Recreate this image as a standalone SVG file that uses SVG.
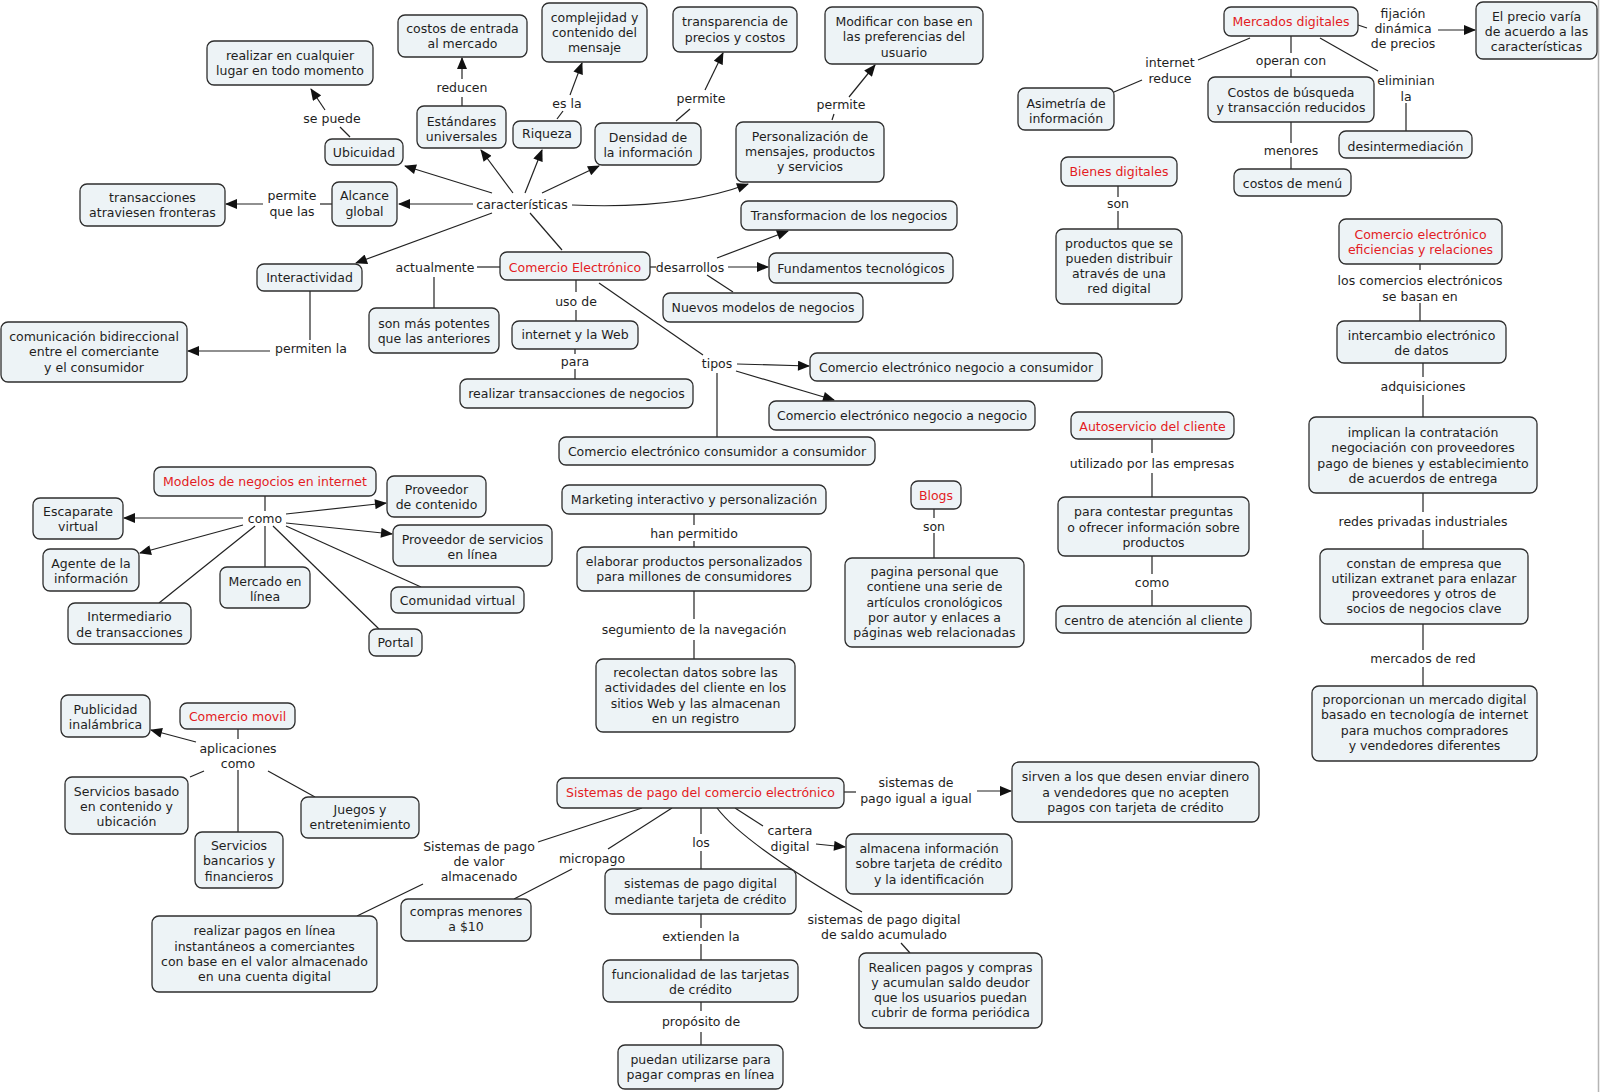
<svg xmlns="http://www.w3.org/2000/svg" width="1600" height="1092" viewBox="0 0 1600 1092">
<style>
text{font-family:"DejaVu Sans",Verdana,"Liberation Sans",sans-serif;font-size:12.5px;fill:#1e1e1e;text-anchor:middle}
.n rect{fill:#edf3f6;stroke:#2e2e2e;stroke-width:1.3}
.r text,text.r{fill:#e31b23}
.c path{fill:none;stroke:#222;stroke-width:1.2}
.c path.a{marker-end:url(#ah)}
</style>
<defs>
<marker id="ah" viewBox="0 0 12 10" refX="11" refY="5" markerWidth="13" markerHeight="10" orient="auto" markerUnits="userSpaceOnUse"><path d="M0,0 L12,5 L0,10 z" fill="#111"/></marker>
</defs>
<rect width="1600" height="1092" fill="#fff"/>
<line x1="1598.5" y1="0" x2="1598.5" y2="1092" stroke="#b5b5b5" stroke-width="1.5"/>

<g id="connectors" class="c">
<path d="M350,137 L340,127"/>
<path class="a" d="M325,110 L311,89"/>
<path d="M332,204 L320,204"/>
<path class="a" d="M263,204 L226,204"/>
<path class="a" d="M492,193 L405,166"/>
<path class="a" d="M473,204 L399,204"/>
<path class="a" d="M513,193 L481,150"/>
<path class="a" d="M525,193 L542,150"/>
<path class="a" d="M542,193 L599,166"/>
<path class="a" d="M572,205 C640,208 700,202 748,184"/>
<path class="a" d="M492,213 L356,263"/>
<path d="M562,250 L530,213"/>
<path d="M462,106 L462,97"/>
<path class="a" d="M462,79 L462,58"/>
<path d="M557,119 L563,111"/>
<path class="a" d="M570,95 L582,63"/>
<path d="M676,121 L690,109"/>
<path class="a" d="M705,90 L723,53"/>
<path d="M832,120 L834,114"/>
<path class="a" d="M849,97 L875,65"/>
<path d="M310,291 L310,340"/>
<path class="a" d="M270,351 L188,351"/>
<path d="M477,267 L500,267"/>
<path d="M434,277 L434,308"/>
<path d="M650,267 L656,267"/>
<path class="a" d="M728,267 L768,267"/>
<path class="a" d="M717,258 L788,231"/>
<path d="M707,275 L733,292"/>
<path d="M576,280 L576,292"/>
<path d="M576,310 L576,321"/>
<path d="M575,349 L575,354"/>
<path d="M575,369 L575,379"/>
<path d="M599,283 L703,355"/>
<path class="a" d="M737,364 L809,366"/>
<path class="a" d="M736,371 L834,400"/>
<path d="M717,373 L717,437"/>
<path d="M694,514 L694,525"/>
<path d="M694,541 L694,547"/>
<path d="M694,591 L694,619"/>
<path d="M694,640 L694,659"/>
<path d="M934,509 L934,518"/>
<path d="M934,533 L934,558"/>
<path d="M1114,92 L1142,80"/>
<path d="M1198,60 L1250,38"/>
<path d="M1118,186 L1118,197"/>
<path d="M1118,211 L1118,229"/>
<path d="M1358,25 L1367,28"/>
<path class="a" d="M1438,30 L1475,30"/>
<path d="M1291,36 L1291,53"/>
<path d="M1291,69 L1291,77"/>
<path d="M1291,122 L1291,143"/>
<path d="M1291,157 L1291,169"/>
<path d="M1320,38 L1378,71"/>
<path d="M1406,103 L1406,131"/>
<path d="M1420,264 L1420,270"/>
<path d="M1420,303 L1420,321"/>
<path d="M1423,363 L1423,377"/>
<path d="M1423,395 L1423,417"/>
<path d="M1423,493 L1423,512"/>
<path d="M1423,530 L1423,549"/>
<path d="M1423,624 L1423,650"/>
<path d="M1423,667 L1423,686"/>
<path d="M1152,439 L1152,453"/>
<path d="M1152,473 L1152,497"/>
<path d="M1152,556 L1152,574"/>
<path d="M1152,590 L1152,606"/>
<path d="M265,496 L265,511"/>
<path d="M265,526 L265,567"/>
<path class="a" d="M243,518 L124,518"/>
<path class="a" d="M286,514 L386,503"/>
<path class="a" d="M286,523 L392,534"/>
<path class="a" d="M243,525 L140,553"/>
<path d="M255,526 L159,603"/>
<path d="M273,526 L379,629"/>
<path d="M286,526 L421,587"/>
<path d="M238,729 L238,739"/>
<path class="a" d="M196,742 L151,730"/>
<path d="M204,771 L190,777"/>
<path d="M238,770 L238,832"/>
<path d="M268,771 L315,797"/>
<path d="M538,842 L642,808"/>
<path d="M423,884 L357,916"/>
<path d="M608,849 L672,808"/>
<path d="M572,869 L514,899"/>
<path d="M701,808 L701,834"/>
<path d="M701,851 L701,869"/>
<path d="M701,914 L701,928"/>
<path d="M701,944 L701,960"/>
<path d="M701,1002 L701,1011"/>
<path d="M701,1032 L701,1045"/>
<path d="M735,808 L763,826"/>
<path class="a" d="M816,844 L845,847"/>
<path d="M717,808 Q745,845 862,912"/>
<path d="M901,943 L910,953"/>
<path d="M844,792 L856,792"/>
<path class="a" d="M977,791 L1011,791"/>
</g>

<g id="labels">
<text x="332" y="122.5">se puede</text>
<text x="292"><tspan x="292" y="199.5">permite</tspan><tspan x="292" y="215.5">que las</tspan></text>
<text x="311" y="352.5">permiten la</text>
<text x="462" y="91.5">reducen</text>
<text x="567" y="107.5">es la</text>
<text x="701" y="102.5">permite</text>
<text x="841" y="108.5">permite</text>
<text x="522" y="208.5">características</text>
<text x="435" y="271.5">actualmente</text>
<text x="690" y="271.5">desarrollos</text>
<text x="576" y="305.5">uso de</text>
<text x="575" y="365.5">para</text>
<text x="717" y="367.5">tipos</text>
<text x="694" y="537.5">han permitido</text>
<text x="694" y="633.5">segumiento de la navegación</text>
<text x="934" y="530.5">son</text>
<text x="1170"><tspan x="1170" y="66.5">internet</tspan><tspan x="1170" y="82.5">reduce</tspan></text>
<text x="1118" y="207.5">son</text>
<text x="1403"><tspan x="1403" y="17.5">fijación</tspan><tspan x="1403" y="32.5">dinámica</tspan><tspan x="1403" y="47.5">de precios</tspan></text>
<text x="1291" y="64.5">operan con</text>
<text x="1291" y="154.5">menores</text>
<text x="1406"><tspan x="1406" y="84.5">eliminian</tspan><tspan x="1406" y="100.5">la</tspan></text>
<text x="1420"><tspan x="1420" y="284.5">los comercios electrónicos</tspan><tspan x="1420" y="300.5">se basan en</tspan></text>
<text x="1423" y="390.5">adquisiciones</text>
<text x="1423" y="525.5">redes privadas industriales</text>
<text x="1423" y="662.5">mercados de red</text>
<text x="1152" y="467.5">utilizado por las empresas</text>
<text x="1152" y="586.5">como</text>
<text x="265" y="522.5">como</text>
<text x="238"><tspan x="238" y="752.5">aplicaciones</tspan><tspan x="238" y="767.5">como</tspan></text>
<text x="479"><tspan x="479" y="850.5">Sistemas de pago</tspan><tspan x="479" y="865.5">de valor</tspan><tspan x="479" y="880.5">almacenado</tspan></text>
<text x="592" y="862.5">micropago</text>
<text x="701" y="846.5">los</text>
<text x="701" y="940.5">extienden la</text>
<text x="701" y="1025.5">propósito de</text>
<text x="790"><tspan x="790" y="834.5">cartera</tspan><tspan x="790" y="850.5">digital</tspan></text>
<text x="916"><tspan x="916" y="786.5">sistemas de</tspan><tspan x="916" y="802.5">pago igual a igual</tspan></text>
<text x="884"><tspan x="884" y="923.5">sistemas de pago digital</tspan><tspan x="884" y="938.5">de saldo acumulado</tspan></text>
</g>

<g id="n_realizar" class="n"><rect x="207" y="41" width="166" height="44" rx="7"/><text><tspan x="290" y="59.5">realizar en cualquier</tspan><tspan x="290" y="74.5">lugar en todo momento</tspan></text></g>
<g id="n_ubicuidad" class="n"><rect x="325" y="139" width="78" height="26" rx="7"/><text x="364" y="156.5">Ubicuidad</text></g>
<g id="n_alcance" class="n"><rect x="332" y="182" width="65" height="44" rx="7"/><text><tspan x="364.5" y="199.5">Alcance</tspan><tspan x="364.5" y="215.5">global</tspan></text></g>
<g id="n_transacciones" class="n"><rect x="80" y="184" width="145" height="42" rx="7"/><text><tspan x="152.5" y="201.5">transacciones</tspan><tspan x="152.5" y="216.5">atraviesen fronteras</tspan></text></g>
<g id="n_interactividad" class="n"><rect x="257" y="264" width="105" height="27" rx="7"/><text x="309.5" y="281.5">Interactividad</text></g>
<g id="n_comunicacion" class="n"><rect x="1" y="322" width="186" height="60" rx="7"/><text><tspan x="94" y="340.5">comunicación bidireccional</tspan><tspan x="94" y="355.5">entre el comerciante</tspan><tspan x="94" y="371.5">y el consumidor</tspan></text></g>
<g id="n_costos_entrada" class="n"><rect x="398" y="15" width="129" height="42" rx="7"/><text><tspan x="462.5" y="32.5">costos de entrada</tspan><tspan x="462.5" y="47.5">al mercado</tspan></text></g>
<g id="n_complejidad" class="n"><rect x="542" y="3" width="105" height="59" rx="7"/><text><tspan x="594.5" y="21.5">complejidad y</tspan><tspan x="594.5" y="36.5">contenido del</tspan><tspan x="594.5" y="51.5">mensaje</tspan></text></g>
<g id="n_transparencia" class="n"><rect x="673" y="7" width="124" height="45" rx="7"/><text><tspan x="735" y="25.5">transparencia de</tspan><tspan x="735" y="41.5">precios y costos</tspan></text></g>
<g id="n_estandares" class="n"><rect x="417" y="106" width="89" height="42" rx="7"/><text><tspan x="461.5" y="125.5">Estándares</tspan><tspan x="461.5" y="140.5">universales</tspan></text></g>
<g id="n_riqueza" class="n"><rect x="513" y="121" width="68" height="27" rx="7"/><text x="547" y="137.5">Riqueza</text></g>
<g id="n_densidad" class="n"><rect x="595" y="123" width="106" height="42" rx="7"/><text><tspan x="648" y="141.5">Densidad de</tspan><tspan x="648" y="156.5">la información</tspan></text></g>
<g id="n_modificar" class="n"><rect x="825" y="7" width="158" height="57" rx="7"/><text><tspan x="904" y="25.5">Modificar con base en</tspan><tspan x="904" y="40.5">las preferencias del</tspan><tspan x="904" y="56.5">usuario</tspan></text></g>
<g id="n_personalizacion" class="n"><rect x="736" y="122" width="148" height="60" rx="7"/><text><tspan x="810" y="140.5">Personalización de</tspan><tspan x="810" y="155.5">mensajes, productos</tspan><tspan x="810" y="170.5">y servicios</tspan></text></g>
<g id="n_comercio" class="n r"><rect x="500" y="252" width="150" height="28" rx="7"/><text x="575" y="271.5">Comercio Electrónico</text></g>
<g id="n_son_mas" class="n"><rect x="369" y="308" width="130" height="45" rx="7"/><text><tspan x="434" y="327.5">son más potentes</tspan><tspan x="434" y="342.5">que las anteriores</tspan></text></g>
<g id="n_transformacion" class="n"><rect x="741" y="201" width="216" height="29" rx="7"/><text x="849" y="219.5">Transformacion de los negocios</text></g>
<g id="n_fundamentos" class="n"><rect x="769" y="253" width="184" height="30" rx="7"/><text x="861" y="272.5">Fundamentos tecnológicos</text></g>
<g id="n_nuevos" class="n"><rect x="663" y="293" width="200" height="29" rx="7"/><text x="763" y="311.5">Nuevos modelos de negocios</text></g>
<g id="n_internet_web" class="n"><rect x="512" y="321" width="126" height="28" rx="7"/><text x="575" y="339">internet y la Web</text></g>
<g id="n_realizar_trans" class="n"><rect x="460" y="379" width="233" height="29" rx="7"/><text x="576.5" y="397.5">realizar transacciones de negocios</text></g>
<g id="n_b2c" class="n"><rect x="810" y="353" width="292" height="28" rx="7"/><text x="956" y="371.5">Comercio electrónico negocio a consumidor</text></g>
<g id="n_b2b" class="n"><rect x="769" y="401" width="266" height="29" rx="7"/><text x="902" y="419.5">Comercio electrónico negocio a negocio</text></g>
<g id="n_c2c" class="n"><rect x="559" y="437" width="316" height="28" rx="7"/><text x="717" y="455.5">Comercio electrónico consumidor a consumidor</text></g>
<g id="n_marketing" class="n"><rect x="562" y="485" width="264" height="29" rx="7"/><text x="694" y="503.5">Marketing interactivo y personalización</text></g>
<g id="n_elaborar" class="n"><rect x="577" y="547" width="234" height="44" rx="7"/><text><tspan x="694" y="565.5">elaborar productos personalizados</tspan><tspan x="694" y="580.5">para millones de consumidores</tspan></text></g>
<g id="n_recolectan" class="n"><rect x="596" y="659" width="199" height="73" rx="7"/><text><tspan x="695.5" y="676.5">recolectan datos sobre las</tspan><tspan x="695.5" y="691.5">actividades del cliente en los</tspan><tspan x="695.5" y="707.5">sitios Web y las almacenan</tspan><tspan x="695.5" y="722.5">en un registro</tspan></text></g>
<g id="n_blogs" class="n r"><rect x="911" y="481" width="50" height="28" rx="7"/><text x="936" y="499.5">Blogs</text></g>
<g id="n_pagina" class="n"><rect x="845" y="558" width="179" height="89" rx="7"/><text><tspan x="934.5" y="575.5">pagina personal que</tspan><tspan x="934.5" y="590.5">contiene una serie de</tspan><tspan x="934.5" y="606.5">artículos cronológicos</tspan><tspan x="934.5" y="621.5">por autor y enlaces a</tspan><tspan x="934.5" y="636.5">páginas web relacionadas</tspan></text></g>
<g id="n_asimetria" class="n"><rect x="1018" y="88" width="96" height="42" rx="7"/><text><tspan x="1066" y="107.5">Asimetría de</tspan><tspan x="1066" y="122.5">información</tspan></text></g>
<g id="n_bienes" class="n r"><rect x="1061" y="157" width="116" height="29" rx="7"/><text x="1119" y="175.5">Bienes digitales</text></g>
<g id="n_productos" class="n"><rect x="1056" y="229" width="126" height="75" rx="7"/><text><tspan x="1119" y="247.5">productos que se</tspan><tspan x="1119" y="262.5">pueden distribuir</tspan><tspan x="1119" y="277.5">através de una</tspan><tspan x="1119" y="292.5">red digital</tspan></text></g>
<g id="n_mercados" class="n r"><rect x="1224" y="7" width="134" height="29" rx="7"/><text x="1291" y="25.5">Mercados digitales</text></g>
<g id="n_precio" class="n"><rect x="1476" y="2" width="121" height="57" rx="7"/><text><tspan x="1536.5" y="20.5">El precio varía</tspan><tspan x="1536.5" y="35.5">de acuerdo a las</tspan><tspan x="1536.5" y="50.5">características</tspan></text></g>
<g id="n_costos_busq" class="n"><rect x="1208" y="77" width="166" height="45" rx="7"/><text><tspan x="1291" y="96.5">Costos de búsqueda</tspan><tspan x="1291" y="111.5">y transacción reducidos</tspan></text></g>
<g id="n_costos_menu" class="n"><rect x="1234" y="169" width="117" height="27" rx="7"/><text x="1292.5" y="187.5">costos de menú</text></g>
<g id="n_desinter" class="n"><rect x="1339" y="131" width="133" height="27" rx="7"/><text x="1405.5" y="150.5">desintermediación</text></g>
<g id="n_ce_eficiencias" class="n r"><rect x="1339" y="219" width="163" height="45" rx="7"/><text><tspan x="1420.5" y="238.5">Comercio electrónico</tspan><tspan x="1420.5" y="253.5">eficiencias y relaciones</tspan></text></g>
<g id="n_intercambio" class="n"><rect x="1337" y="321" width="169" height="42" rx="7"/><text><tspan x="1421.5" y="339.5">intercambio electrónico</tspan><tspan x="1421.5" y="354.5">de datos</tspan></text></g>
<g id="n_implican" class="n"><rect x="1309" y="417" width="228" height="76" rx="7"/><text><tspan x="1423" y="436.5">implican la contratación</tspan><tspan x="1423" y="451.5">negociación con proveedores</tspan><tspan x="1423" y="467.5">pago de bienes y establecimiento</tspan><tspan x="1423" y="482.5">de acuerdos de entrega</tspan></text></g>
<g id="n_constan" class="n"><rect x="1320" y="549" width="208" height="75" rx="7"/><text><tspan x="1424" y="567.5">constan de empresa que</tspan><tspan x="1424" y="582.5">utilizan extranet para enlazar</tspan><tspan x="1424" y="597.5">proveedores y otros de</tspan><tspan x="1424" y="612.5">socios de negocios clave</tspan></text></g>
<g id="n_proporcionan" class="n"><rect x="1312" y="686" width="225" height="75" rx="7"/><text><tspan x="1424.5" y="703.5">proporcionan un mercado digital</tspan><tspan x="1424.5" y="718.5">basado en tecnología de internet</tspan><tspan x="1424.5" y="734.5">para muchos compradores</tspan><tspan x="1424.5" y="749.5">y vendedores diferentes</tspan></text></g>
<g id="n_autoservicio" class="n r"><rect x="1071" y="412" width="163" height="27" rx="7"/><text x="1152.5" y="430.5">Autoservicio del cliente</text></g>
<g id="n_contestar" class="n"><rect x="1058" y="497" width="191" height="59" rx="7"/><text><tspan x="1153.5" y="515.5">para contestar preguntas</tspan><tspan x="1153.5" y="531.5">o ofrecer información sobre</tspan><tspan x="1153.5" y="546.5">productos</tspan></text></g>
<g id="n_centro" class="n"><rect x="1056" y="606" width="195" height="27" rx="7"/><text x="1153.5" y="624.5">centro de atención al cliente</text></g>
<g id="n_modelos" class="n r"><rect x="154" y="467" width="222" height="29" rx="7"/><text x="265" y="485.5">Modelos de negocios en internet</text></g>
<g id="n_prov_cont" class="n"><rect x="387" y="476" width="99" height="41" rx="7"/><text><tspan x="436.5" y="493.5">Proveedor</tspan><tspan x="436.5" y="508.5">de contenido</tspan></text></g>
<g id="n_prov_serv" class="n"><rect x="393" y="525" width="159" height="41" rx="7"/><text><tspan x="472.5" y="543.5">Proveedor de servicios</tspan><tspan x="472.5" y="558.5">en línea</tspan></text></g>
<g id="n_escaparate" class="n"><rect x="33" y="498" width="90" height="41" rx="7"/><text><tspan x="78" y="515.5">Escaparate</tspan><tspan x="78" y="530.5">virtual</tspan></text></g>
<g id="n_agente" class="n"><rect x="43" y="549" width="96" height="42" rx="7"/><text><tspan x="91" y="567.5">Agente de la</tspan><tspan x="91" y="582.5">información</tspan></text></g>
<g id="n_mercado_linea" class="n"><rect x="220" y="567" width="90" height="41" rx="7"/><text><tspan x="265" y="585.5">Mercado en</tspan><tspan x="265" y="600.5">línea</tspan></text></g>
<g id="n_intermediario" class="n"><rect x="68" y="603" width="123" height="41" rx="7"/><text><tspan x="129.5" y="620.5">Intermediario</tspan><tspan x="129.5" y="636.5">de transacciones</tspan></text></g>
<g id="n_comunidad" class="n"><rect x="391" y="587" width="133" height="26" rx="7"/><text x="457.5" y="604.5">Comunidad virtual</text></g>
<g id="n_portal" class="n"><rect x="369" y="629" width="53" height="27" rx="7"/><text x="395.5" y="646.5">Portal</text></g>
<g id="n_publicidad" class="n"><rect x="61" y="695" width="89" height="42" rx="7"/><text><tspan x="105.5" y="713.5">Publicidad</tspan><tspan x="105.5" y="728.5">inalámbrica</tspan></text></g>
<g id="n_movil" class="n r"><rect x="180" y="703" width="115" height="26" rx="7"/><text x="237.5" y="720.5">Comercio movil</text></g>
<g id="n_serv_basado" class="n"><rect x="65" y="777" width="123" height="57" rx="7"/><text><tspan x="126.5" y="795.5">Servicios basado</tspan><tspan x="126.5" y="810.5">en contenido y</tspan><tspan x="126.5" y="825.5">ubicación</tspan></text></g>
<g id="n_serv_banc" class="n"><rect x="195" y="832" width="88" height="56" rx="7"/><text><tspan x="239" y="849.5">Servicios</tspan><tspan x="239" y="864.5">bancarios y</tspan><tspan x="239" y="880.5">financieros</tspan></text></g>
<g id="n_juegos" class="n"><rect x="301" y="797" width="118" height="41" rx="7"/><text><tspan x="360" y="813.5">Juegos y</tspan><tspan x="360" y="828.5">entretenimiento</tspan></text></g>
<g id="n_realizar_pagos" class="n"><rect x="152" y="916" width="225" height="76" rx="7"/><text><tspan x="264.5" y="934.5">realizar pagos en línea</tspan><tspan x="264.5" y="950.5">instantáneos a comerciantes</tspan><tspan x="264.5" y="965.5">con base en el valor almacenado</tspan><tspan x="264.5" y="980.5">en una cuenta digital</tspan></text></g>
<g id="n_compras" class="n"><rect x="401" y="899" width="130" height="42" rx="7"/><text><tspan x="466" y="915.5">compras menores</tspan><tspan x="466" y="930.5">a $10</tspan></text></g>
<g id="n_sistemas" class="n r"><rect x="557" y="778" width="287" height="30" rx="7"/><text x="700.5" y="796.5">Sistemas de pago del comercio electrónico</text></g>
<g id="n_tarjeta" class="n"><rect x="605" y="869" width="191" height="45" rx="7"/><text><tspan x="700.5" y="887.5">sistemas de pago digital</tspan><tspan x="700.5" y="903.5">mediante tarjeta de crédito</tspan></text></g>
<g id="n_funcionalidad" class="n"><rect x="603" y="960" width="195" height="42" rx="7"/><text><tspan x="700.5" y="978.5">funcionalidad de las tarjetas</tspan><tspan x="700.5" y="993.5">de crédito</tspan></text></g>
<g id="n_puedan" class="n"><rect x="618" y="1045" width="165" height="44" rx="7"/><text><tspan x="700.5" y="1063.5">puedan utilizarse para</tspan><tspan x="700.5" y="1078.5">pagar compras en línea</tspan></text></g>
<g id="n_sirven" class="n"><rect x="1012" y="762" width="247" height="60" rx="7"/><text><tspan x="1135.5" y="780.5">sirven a los que desen enviar dinero</tspan><tspan x="1135.5" y="796.5">a vendedores que no acepten</tspan><tspan x="1135.5" y="811.5">pagos con tarjeta de crédito</tspan></text></g>
<g id="n_almacena" class="n"><rect x="846" y="834" width="166" height="60" rx="7"/><text><tspan x="929" y="852.5">almacena información</tspan><tspan x="929" y="867.5">sobre tarjeta de crédito</tspan><tspan x="929" y="883.5">y la identificación</tspan></text></g>
<g id="n_realicen" class="n"><rect x="859" y="953" width="183" height="75" rx="7"/><text><tspan x="950.5" y="971.5">Realicen pagos y compras</tspan><tspan x="950.5" y="986.5">y acumulan saldo deudor</tspan><tspan x="950.5" y="1001.5">que los usuarios puedan</tspan><tspan x="950.5" y="1016.5">cubrir de forma periódica</tspan></text></g>
</svg>
